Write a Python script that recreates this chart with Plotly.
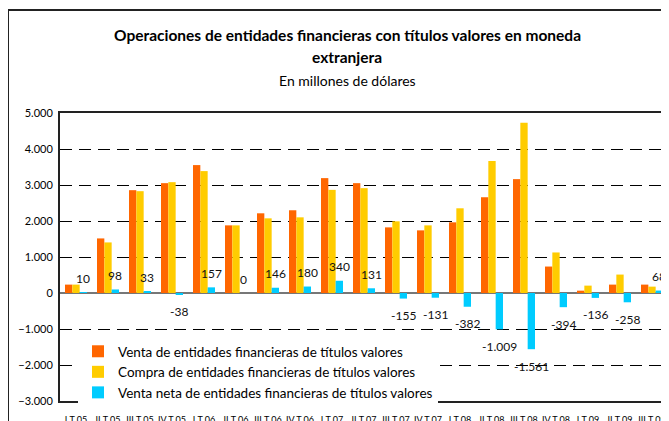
import plotly.graph_objects as go

categories = ["I T 05", "II T 05", "III T 05", "IV T 05", "I T 06", "II T 06", "III T 06", "IV T 06",
              "I T 07", "II T 07", "III T 07", "IV T 07", "I T 08", "II T 08", "III T 08", "IV T 08",
              "I T 09", "II T 09", "III T 09"]
venta = [233, 1516, 2856, 3051, 3553, 1879, 2214, 2298, 3191, 3051, 1823, 1740, 1963, 2660, 3163, 735, 65, 233, 233]
compra = [233, 1405, 2828, 3079, 3386, 1879, 2074, 2102, 2865, 2912, 1991, 1879, 2353, 3665, 4726, 1126, 205, 512, 177]
neta = [10, 98, 33, -38, 157, 0, 146, 180, 340, 131, -155, -131, -382, -1009, -1561, -394, -136, -258, 68]
y_ticks = [5000, 4000, 3000, 2000, 1000, 0, -1000, -2000, -3000]

FONT = "Lato"
names = ["Venta de entidades financieras de títulos valores",
         "Compra de entidades financieras de títulos valores",
         "Venta neta de entidades financieras de títulos valores"]
colors = ["#FF6600", "#FFCC00", "#00CCFF"]

fig = go.Figure()
for vals, nm, col in zip([venta, compra, neta], names, colors):
    fig.add_trace(go.Bar(x=categories, y=vals, name=nm, marker=dict(color=col, line=dict(width=0))))

def fmt(v):
    return "{:,}".format(v).replace(",", ".")

annotations = []
for c, v in zip(categories, neta):
    annotations.append(dict(x=c, y=v, xref="x", yref="y", text=fmt(v), showarrow=False,
                            xshift=7, yshift=14 if v >= 0 else -17,
                            font=dict(family=FONT, size=12, color="#111")))

# page pixel -> paper coordinate (plot area spans page x 60..668, y 113..401)
def py(p):
    return (401 - p) / 288.0

def px(p):
    return (p - 60) / 608.0

annotations += [
    dict(x=px(347), y=py(35), xref="paper", yref="paper", showarrow=False,
         xanchor="center", yanchor="middle",
         text="<b>Operaciones de entidades financieras con títulos valores en moneda</b>",
         font=dict(family=FONT, size=15.5, color="#000")),
    dict(x=px(347), y=py(57), xref="paper", yref="paper", showarrow=False,
         xanchor="center", yanchor="middle",
         text="<b>extranjera</b>", font=dict(family=FONT, size=15.5, color="#000")),
    dict(x=px(347), y=py(81), xref="paper", yref="paper", showarrow=False,
         xanchor="center", yanchor="middle",
         text="En millones de dólares", font=dict(family=FONT, size=14, color="#000")),
]

shapes = [
    dict(type="rect", xref="paper", yref="paper", x0=px(8), x1=1.2, y0=-0.3, y1=py(10),
         line=dict(color="#222", width=2), layer="below"),
]

fig.update_layout(
    width=661, height=413,
    margin=dict(l=52, r=1, t=105, b=20, autoexpand=False),
    paper_bgcolor="white", plot_bgcolor="white",
    separators=",.",
    barmode="group", bargap=0.3125, bargroupgap=0,
    font=dict(family=FONT, size=11, color="#000"),
    showlegend=True,
    legend=dict(x=px(78), y=py(336), xanchor="left", yanchor="top",
                bgcolor="white", borderwidth=0,
                font=dict(family=FONT, size=13.5, color="#000"),
                tracegroupgap=0, itemwidth=30),
    annotations=annotations,
    shapes=shapes,
    xaxis=dict(type="category", showgrid=False, showline=True, mirror=True,
               linecolor="#222", linewidth=2, ticks="", automargin=False,
               tickfont=dict(family=FONT, size=9, color="#000"), ticklabelstandoff=9,
               tickangle=0),
    yaxis=dict(range=[-3000, 5000], tickvals=y_ticks, tickformat=",d", automargin=False,
               showgrid=True, gridcolor="#000", gridwidth=1, griddash="12px,7px",
               zeroline=True, zerolinecolor="#777", zerolinewidth=2,
               showline=True, linecolor="#222", linewidth=2, ticks="",
               ticklabelstandoff=3,
               tickfont=dict(family=FONT, size=11, color="#000")),
)

fig.write_html("out.html")
